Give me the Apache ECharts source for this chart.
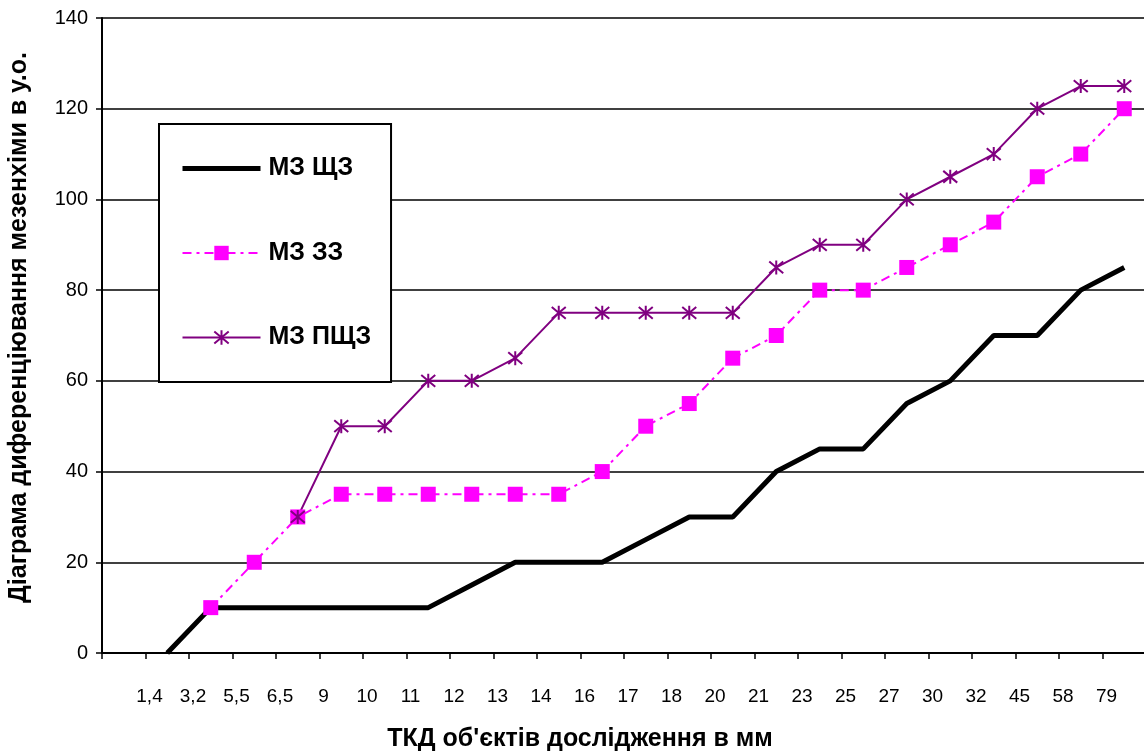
<!DOCTYPE html>
<html>
<head>
<meta charset="utf-8">
<script src="https://cdn.jsdelivr.net/npm/echarts@6/dist/echarts.min.js"></script>
<style>
  html, body { margin: 0; padding: 0; background: #fff; }
  #chart { width: 1144px; height: 751px; }
</style>
</head>
<body>
<div id="chart"></div>
<script>
// ТКД categories (mm), one per measured object
const sizeLabels = ['1,4', '3,2', '5,5', '6,5', '9', '10', '11', '12', '13', '14', '16', '17',
                    '18', '20', '21', '23', '25', '27', '30', '32', '45', '58', '79'];

// Series values, one per category (null = no measurement yet)
const mzShchz  = [0, 10, 10, 10, 10, 10, 10, 15, 20, 20, 20, 25, 30, 30, 40, 45, 45, 55, 60, 70, 70, 80, 85];
const mzZz     = [null, 10, 20, 30, 35, 35, 35, 35, 35, 35, 40, 50, 55, 65, 70, 80, 80, 85, 90, 95, 105, 110, 120];
const mzPshchz = [null, null, null, 30, 50, 50, 60, 60, 65, 75, 75, 75, 75, 75, 85, 90, 90, 100, 105, 110, 120, 125, 125];

const seriesNames = ['МЗ ЩЗ', 'МЗ ЗЗ', 'МЗ ПЩЗ'];
const yTicks = { min: 0, max: 140, interval: 20 };

const FONT = 'Arial, "Liberation Sans", sans-serif';

// Plot bands: one leading empty band, then one band per category.
const bandCats = [''].concat(sizeLabels);
const lead = v => [null].concat(v);
// Label axis puts each size label on the band boundary to the left of its point.
const edgeCats = [''].concat(sizeLabels, ['']);

const asterisk = 'path://M5,0L5,10M0.8,0.8L9.2,9.2M0.8,9.2L9.2,0.8';

const chart = echarts.init(document.getElementById('chart'), null, { renderer: 'canvas' });

chart.setOption({
  animation: false,
  backgroundColor: '#ffffff',
  grid: { left: 102, top: 18, bottom: 98, right: -2, containLabel: false, outerBoundsMode: 'none' },
  legend: {
    orient: 'vertical',
    left: 159,
    top: 124,
    padding: [32, 20, 32, 21],
    itemGap: 59.5,
    itemWidth: 78,
    itemHeight: 18,
    backgroundColor: '#ffffff',
    borderColor: '#000000',
    borderWidth: 2,
    borderRadius: 0,
    textStyle: { fontFamily: FONT, fontWeight: 'bold', fontSize: 25, lineHeight: 20, color: '#000', padding: [0, 0, 0, 3] },
    data: [
      { name: seriesNames[0], itemStyle: { opacity: 0 }, lineStyle: { width: 5 } },
      { name: seriesNames[1] },
      { name: seriesNames[2] }
    ]
  },
  xAxis: [
    {
      type: 'category',
      data: bandCats,
      boundaryGap: true,
      position: 'bottom',
      axisLine: { show: true, onZero: false, lineStyle: { color: '#000', width: 2 } },
      axisTick: { show: true, interval: 0, length: 6, inside: false, lineStyle: { color: '#000', width: 1.5 } },
      axisLabel: { show: false },
      splitLine: { show: false },
      name: 'ТКД об\'єктів дослідження в мм',
      nameLocation: 'middle',
      nameGap: 74,
      nameTextStyle: { fontFamily: FONT, fontWeight: 'bold', fontSize: 25, color: '#000', padding: [0, 88, 0, 0] }
    },
    {
      type: 'category',
      data: edgeCats,
      boundaryGap: false,
      position: 'bottom',
      axisLine: { show: false },
      axisTick: { show: false },
      axisLabel: { show: true, interval: 0, margin: 34, fontFamily: FONT, fontSize: 19, color: '#000', padding: [0, 0, 0, 8] },
      splitLine: { show: false }
    }
  ],
  yAxis: {
    type: 'value',
    min: yTicks.min,
    max: yTicks.max,
    interval: yTicks.interval,
    axisLine: { show: true, lineStyle: { color: '#000', width: 2 } },
    axisTick: { show: true, length: 6, inside: false, lineStyle: { color: '#000', width: 1.5 } },
    axisLabel: { margin: 14, fontFamily: FONT, fontSize: 20, color: '#000' },
    splitLine: { show: true, lineStyle: { color: '#000', width: 1.5 } },
    name: 'Діаграма диференціювання мезенхіми в у.о.',
    nameLocation: 'middle',
    nameGap: 70,
    nameTextStyle: { fontFamily: FONT, fontWeight: 'bold', fontSize: 25, color: '#000', padding: [0, 0, 0, 16] }
  },
  series: [
    {
      name: seriesNames[0],
      type: 'line',
      xAxisIndex: 0,
      data: lead(mzShchz),
      symbol: 'none',
      lineStyle: { color: '#000000', width: 5 },
      itemStyle: { color: '#000000' }
    },
    {
      name: seriesNames[1],
      type: 'line',
      xAxisIndex: 0,
      data: lead(mzZz),
      symbol: 'rect',
      symbolSize: 15,
      lineStyle: { color: '#ff00ff', width: 2, type: [9, 5, 3, 5] },
      itemStyle: { color: '#ff00ff' }
    },
    {
      name: seriesNames[2],
      type: 'line',
      xAxisIndex: 0,
      data: lead(mzPshchz),
      symbol: asterisk,
      symbolSize: 14,
      lineStyle: { color: '#800080', width: 2 },
      itemStyle: { color: '#800080', borderColor: '#800080', borderWidth: 2 }
    }
  ]
});
</script>
</body>
</html>
